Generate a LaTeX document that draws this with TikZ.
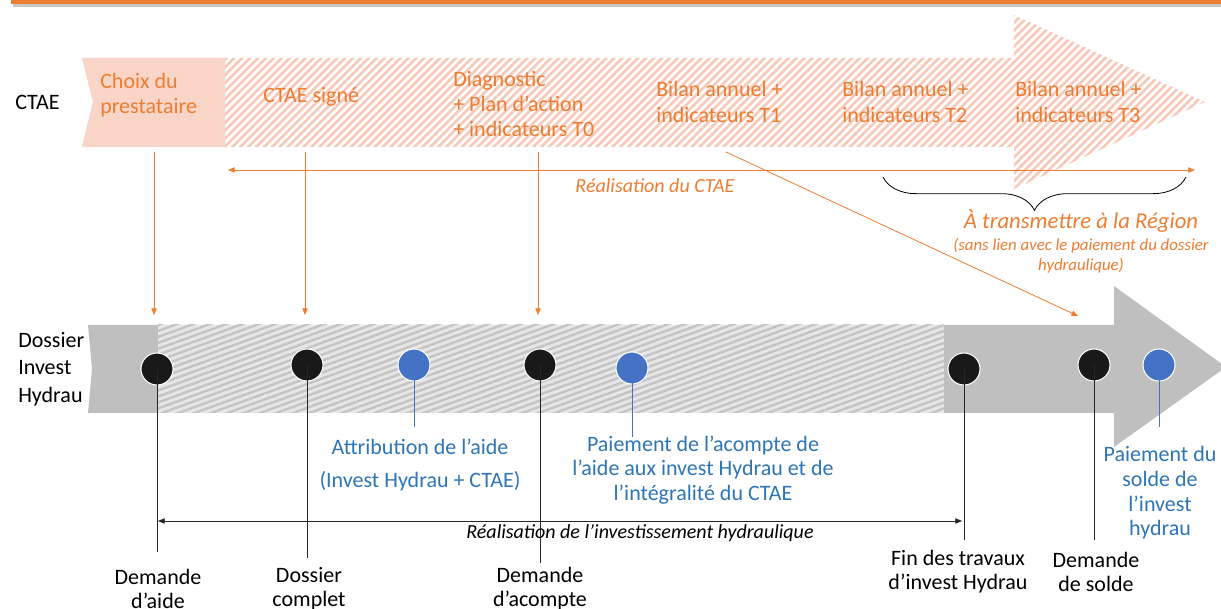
\documentclass[tikz,border=0pt]{standalone}
\usepackage{fontspec}
\setmainfont{Carlito}
\usetikzlibrary{arrows.meta,patterns.meta,decorations.pathreplacing}
\definecolor{ctaeorange}{HTML}{ED7D31}
\definecolor{ctaepink}{HTML}{F9D5C8}
\definecolor{ctaestripe}{HTML}{F8C9B8}
\definecolor{hydgray}{HTML}{BFBFBF}
\definecolor{hydlight}{HTML}{E6E6E6}
\definecolor{hydstripe}{HTML}{C4C4C4}
\definecolor{aideblue}{HTML}{4472C4}
\definecolor{aidetext}{HTML}{2E75B6}
\begin{document}
\begin{tikzpicture}[>={Triangle[length=5pt,width=4pt]},x=0.75pt,y=-0.75pt,
	every node/.style={inner sep=0pt,font=\fontsize{16.5}{19}\selectfont},
	ctaetxt/.style={text=ctaeorange,align=left,anchor=west},
	bluetxt/.style={text=aidetext,align=center},
	blacktxt/.style={align=center,font=\fontsize{16.5}{18}\selectfont},
	blackdot/.style={circle,fill=black!90,draw=white,line width=0.8pt,minimum size=24pt},
	bluedot/.style={circle,fill=aideblue,draw=white,line width=0.8pt,minimum size=24pt}]
	\useasboundingbox (0,0) rectangle (1221,609);
	% bandeau du haut
	\fill[black!22] (13,2) rectangle (1221,7);
	\fill[ctaeorange] (11,-2) rectangle (1221,4);
	% fleche CTAE
	\path[pattern={Lines[angle=45,distance=4.2pt,line width=2pt]},pattern color=ctaestripe] (82,58) -- (1014,58) -- (1014,15) -- (1205,102) -- (1014,189) -- (1014,147) -- (82,147) -- (93,102) -- cycle;
	\fill[ctaepink] (82,58) -- (225,58) -- (225,147) -- (82,147) -- (93,102) -- cycle;
	% fleche dossier hydraulique
	\fill[hydgray] (88,325) -- (1114,325) -- (1114,286) -- (1226,367) -- (1114,447) -- (1114,413) -- (88,413) -- (92,369) -- cycle;
	\fill[hydlight] (158,325) rectangle (944,413);
	\path[pattern={Lines[angle=20,distance=4.2pt,line width=1.8pt]},pattern color=hydstripe] (158,325) rectangle (944,413);
	% textes CTAE
	\node (ctae) at (15,102) [anchor=west] {CTAE};
	\node[ctaetxt] (choix) at (100,95) {Choix du\\prestataire};
	\node[ctaetxt] (signe) at (263,97) {CTAE signé};
	\node[ctaetxt] (diag) at (453,104) {Diagnostic\\+ Plan d’action\\+ indicateurs T0};
	\node[ctaetxt] (bilan1) at (656,102) {Bilan annuel +\\indicateurs T1};
	\node[ctaetxt] (bilan2) at (842,102) {Bilan annuel +\\indicateurs T2};
	\node[ctaetxt] (bilan3) at (1015,102) {Bilan annuel +\\indicateurs T3};
	\node (dossier) at (18,369) [anchor=west,align=left,font=\fontsize{16.5}{20.5}\selectfont] {Dossier\\Invest\\Hydrau};
	% fleches orange
	\foreach \x/\n in {154/1,305/2,538/3}{
		\coordinate (ctop\n) at (\x,152);
		\coordinate (cbot\n) at (\x,315);
		\draw[->,ctaeorange,line width=0.6pt] (ctop\n) -- (cbot\n);
	}
	\coordinate (diagA) at (726,152);
	\coordinate (diagB) at (1078,316);
	\draw[->,ctaeorange,line width=0.6pt] (diagA) -- (diagB);
	\coordinate (realA) at (228,170);
	\coordinate (realB) at (1195,170);
	\draw[<->,ctaeorange,line width=0.6pt] (realA) -- (realB);
	\node (realctae) at (655,186) [text=ctaeorange,font=\fontsize{15}{18}\itshape] {Réalisation du CTAE};
	% accolade
	\coordinate (brA) at (883,177);
	\coordinate (brB) at (1186,177);
	\draw[decorate,decoration={brace,mirror,amplitude=25pt,aspect=0.5},line width=0.6pt] (brA) -- (brB);
	\node (region) at (1081,221) [text=ctaeorange,font=\fontsize{17}{20}\itshape] {À transmettre à la Région};
	\node (sanslien) at (1081,256) [text=ctaeorange,align=center,font=\fontsize{12.6}{15}\itshape] {(sans lien avec le paiement du dossier\\hydraulique)};
	% jalons du dossier
	\node[blackdot] (dem1) at (157,369) {};
	\node[blackdot] (dem2) at (307,365) {};
	\node[bluedot] (aide1) at (414,365) {};
	\node[blackdot] (dem3) at (540,365) {};
	\node[bluedot] (aide2) at (632,368) {};
	\node[blackdot] (dem4) at (964,369) {};
	\node[blackdot] (dem5) at (1094,365) {};
	\node[bluedot] (aide3) at (1159,365) {};
	\foreach \n/\x/\y in {1/157/552,2/307/558,3/540/563,4/964/540,5/1094/540}{
		\coordinate (dem\n e) at (\x,\y);
		\draw[black!85,line width=0.7pt] (dem\n.center) -- (dem\n e);
	}
	\foreach \n/\x/\y in {1/414/427,2/632/437,3/1159/427}{
		\coordinate (aide\n e) at (\x,\y);
		\draw[aideblue,line width=0.7pt] (aide\n.center) -- (aide\n e);
	}
	% textes bleus
	\node[bluetxt] (attrib) at (420,447) {Attribution de l’aide};
	\node[bluetxt] (attrib2) at (420,481) {(Invest Hydrau + CTAE)};
	\node[bluetxt,font=\fontsize{16.5}{18.5}\selectfont] (acompte) at (703,470) {Paiement de l’acompte de\\l’aide aux invest Hydrau et de\\l’intégralité du CTAE};
	\node[bluetxt,font=\fontsize{16.5}{18.5}\selectfont] (solde) at (1160,493) {Paiement du\\solde de\\l’invest\\hydrau};
	% realisation investissement
	\coordinate (invA) at (158,521);
	\coordinate (invB) at (962,521);
	\draw[<->,black!85,line width=0.6pt] (invA) -- (invB);
	\node (realinv) at (640,533) [font=\fontsize{15}{18}\itshape] {Réalisation de l’investissement hydraulique};
	% textes noirs
	\node[blacktxt] (lbl1) at (158,589) {Demande\\d’aide};
	\node[blacktxt] (lbl2) at (309,589) {Dossier\\complet};
	\node[blacktxt] (lbl3) at (540,589) {Demande\\d’acompte};
	\node[blacktxt] (lbl4) at (958,572) {Fin des travaux\\d’invest Hydrau};
	\node[blacktxt] (lbl5) at (1096,572) {Demande\\de solde};
\end{tikzpicture}
\end{document}
